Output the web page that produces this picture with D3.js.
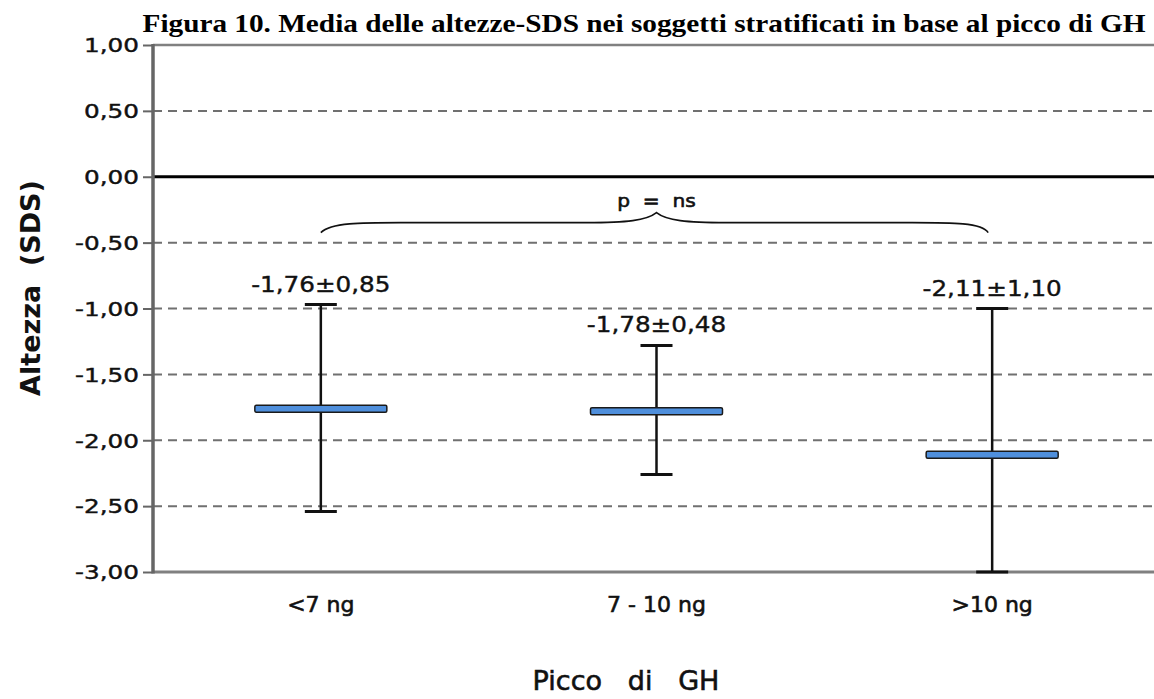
<!DOCTYPE html>
<html>
<head>
<meta charset="utf-8">
<script src="https://cdn.jsdelivr.net/npm/d3@7"></script>
<style>
  body { margin: 0; background: #fff; }
  svg { display: block; }
</style>
</head>
<body>
<svg id="chart" width="1154" height="699"></svg>
<script>
// data
var categories = ["<7 ng", "7 - 10 ng", ">10 ng"];
var means = [-1.76, -1.78, -2.11];
var upper = [-0.97, -1.28, -1.00];
var lower = [-2.54, -2.26, -3.00];
var valueLabels = ["-1,76\u00b10,85", "-1,78\u00b10,48", "-2,11\u00b11,10"];
var yTicks = [1, 0.5, 0, -0.5, -1, -1.5, -2, -2.5, -3];
var pLabel = "p  =  ns";

var width = 1154, height = 699;
var margin = {top: 45, right: -6, bottom: 127, left: 153};

var svg = d3.select("#chart");

var x = d3.scaleBand()
  .domain(categories)
  .range([margin.left, width - margin.right]);

var y = d3.scaleLinear()
  .domain([-3, 1])
  .range([height - margin.bottom, margin.top]);

var fmt = function(v) { return d3.format(".2f")(v).replace("\u2212", "-").replace(".", ","); };

// stretch text horizontally, the original uses a wide face
function stretch(sel, k) {
  sel.each(function() {
    var len = this.getComputedTextLength();
    d3.select(this).attr("textLength", len * k).attr("lengthAdjust", "spacingAndGlyphs");
  });
}

var cx = function(i) { return x(categories[i]) + x.bandwidth() / 2; };

// title
svg.append("text")
  .attr("x", 644)
  .attr("y", 32)
  .attr("text-anchor", "middle")
  .style("font-family", "Liberation Serif")
  .style("font-weight", "bold")
  .style("font-size", "26px")
  .text("Figura 10. Media delle altezze-SDS nei soggetti stratificati in base al picco di GH")
  .attr("textLength", 1003)
  .attr("lengthAdjust", "spacingAndGlyphs");

// dashed gridlines
svg.append("g")
  .selectAll("line")
  .data(yTicks.filter(function(d) { return d != 0 && d != 1 && d != -3; }))
  .enter().append("line")
    .attr("x1", margin.left)
    .attr("x2", width)
    .attr("y1", function(d) { return y(d); })
    .attr("y2", function(d) { return y(d); })
    .style("stroke", "#707070")
    .style("stroke-width", 2)
    .style("stroke-dasharray", "9,6");

// top border and bottom axis
svg.append("line")
  .attr("x1", margin.left).attr("x2", width)
  .attr("y1", y(1)).attr("y2", y(1))
  .style("stroke", "#808080").style("stroke-width", 2.5);
svg.append("line")
  .attr("x1", margin.left).attr("x2", width)
  .attr("y1", y(-3)).attr("y2", y(-3))
  .style("stroke", "#808080").style("stroke-width", 3);

// zero line
svg.append("line")
  .attr("x1", margin.left).attr("x2", width)
  .attr("y1", y(0)).attr("y2", y(0))
  .style("stroke", "#000").style("stroke-width", 3);

// y axis
var yAxis = svg.append("g")
  .attr("transform", "translate(" + margin.left + ",0)")
  .call(d3.axisLeft(y).tickValues(yTicks).tickFormat(fmt).tickSize(10).tickPadding(4));
yAxis.select(".domain").remove();
yAxis.selectAll(".tick line").style("stroke", "#666").style("stroke-width", 2);
yAxis.selectAll(".tick text")
  .style("font-family", "DejaVu Sans")
  .style("font-size", "19px")
  .style("fill", "#111")
  .style("stroke", "#111")
  .style("stroke-width", 0.4)
  .attr("dy", "0.36em")
  .call(stretch, 1.3);
svg.append("line")
  .attr("x1", margin.left).attr("x2", margin.left)
  .attr("y1", y(1) - 1).attr("y2", y(-3) + 1.5)
  .style("stroke", "#666").style("stroke-width", 3.5);

// error bars
var groups = svg.append("g")
  .selectAll("g")
  .data(categories)
  .enter().append("g");

groups.append("line")
  .attr("x1", function(d, i) { return cx(i); })
  .attr("x2", function(d, i) { return cx(i); })
  .attr("y1", function(d, i) { return y(upper[i]); })
  .attr("y2", function(d, i) { return y(lower[i]); })
  .style("stroke", "#111").style("stroke-width", 2.5);

[upper, lower].forEach(function(arr) {
  groups.append("line")
    .attr("x1", function(d, i) { return cx(i) - 16; })
    .attr("x2", function(d, i) { return cx(i) + 16; })
    .attr("y1", function(d, i) { return y(arr[i]); })
    .attr("y2", function(d, i) { return y(arr[i]); })
    .style("stroke", "#111").style("stroke-width", 3);
});

groups.append("rect")
  .attr("x", function(d, i) { return cx(i) - 66; })
  .attr("y", function(d, i) { return y(means[i]) - 3.5; })
  .attr("width", 132)
  .attr("height", 7)
  .attr("rx", 1.5)
  .style("fill", "#4f8fdc")
  .style("stroke", "#1a1a1a")
  .style("stroke-width", 1.5);

groups.append("text")
  .attr("x", function(d, i) { return cx(i); })
  .attr("y", function(d, i) { return y(upper[i]) - 13; })
  .attr("text-anchor", "middle")
  .style("font-family", "DejaVu Sans")
  .style("font-size", "22px")
  .style("fill", "#111")
  .style("stroke", "#111")
  .style("stroke-width", 0.4)
  .text(function(d, i) { return valueLabels[i]; })
  .call(stretch, 1.12);

// category labels
svg.append("g")
  .selectAll("text")
  .data(categories)
  .enter().append("text")
    .attr("x", function(d, i) { return cx(i); })
    .attr("y", 612)
    .attr("text-anchor", "middle")
    .style("font-family", "DejaVu Sans")
    .style("font-size", "22px")
    .style("fill", "#111")
    .style("stroke", "#111")
    .style("stroke-width", 0.6)
    .text(function(d) { return d; });

// axis titles
svg.append("text")
  .attr("x", 626)
  .attr("y", 690)
  .attr("text-anchor", "middle")
  .style("font-family", "DejaVu Sans")
  .style("font-size", "27px")
  .style("fill", "#111")
  .style("stroke", "#111")
  .style("stroke-width", 0.6)
  .style("white-space", "pre")
  .text("Picco   di   GH");

svg.append("text")
  .attr("transform", "translate(40,288) rotate(-90)")
  .attr("text-anchor", "middle")
  .style("font-family", "DejaVu Sans")
  .style("font-weight", "bold")
  .style("font-size", "27px")
  .style("fill", "#111")
  .style("white-space", "pre")
  .text("Altezza  (SDS)");

// brace over the three groups
var bx0 = cx(0), bx1 = cx(2), bm = cx(1);
var braceBase = y(-0.5) - 10, braceTop = braceBase - 10;
var brace = d3.path();
brace.moveTo(bx0, braceBase);
brace.bezierCurveTo(bx0 + 10, braceTop, bx0 + 40, braceTop, bx0 + 80, braceTop);
brace.lineTo(bm - 70, braceTop);
brace.bezierCurveTo(bm - 30, braceTop, bm - 10, braceTop - 2, bm, braceTop - 10);
brace.bezierCurveTo(bm + 10, braceTop - 2, bm + 30, braceTop, bm + 70, braceTop);
brace.lineTo(bx1 - 80, braceTop);
brace.bezierCurveTo(bx1 - 40, braceTop, bx1 - 10, braceTop, bx1 - 4, braceBase);
svg.append("path")
  .attr("d", brace.toString())
  .style("fill", "none")
  .style("stroke", "#111")
  .style("stroke-width", 1.6);

svg.append("text")
  .attr("x", bm)
  .attr("y", braceTop - 16)
  .attr("text-anchor", "middle")
  .style("font-family", "DejaVu Sans")
  .style("font-size", "18px")
  .style("fill", "#111")
  .style("stroke", "#111")
  .style("stroke-width", 0.6)
  .style("white-space", "pre")
  .text(pLabel)
  .call(stretch, 1.12);
</script>
</body>
</html>
